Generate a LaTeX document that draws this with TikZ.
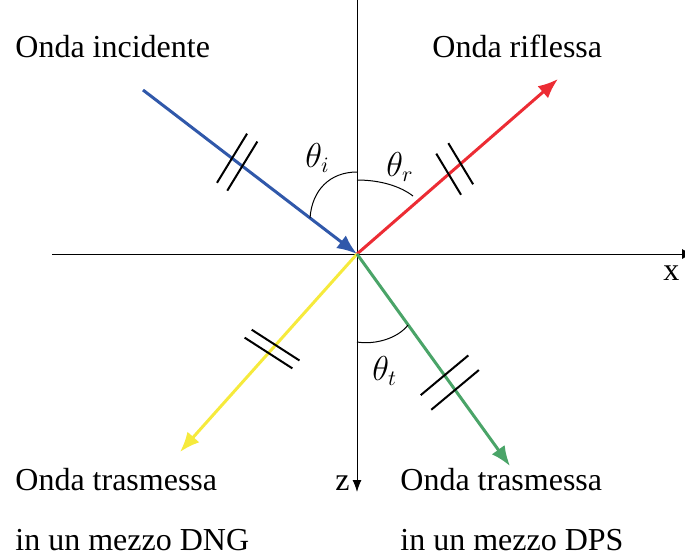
\documentclass[tikz,border=0pt]{standalone}
\usepackage{fontspec}
\setmainfont{Liberation Serif}
\usepackage{tikz}
\usetikzlibrary{arrows.meta,calc}
\definecolor{wblue}{RGB}{48,88,170}
\definecolor{wred}{RGB}{236,44,52}
\definecolor{wyellow}{RGB}{246,234,60}
\definecolor{wgreen}{RGB}{74,164,104}

\begin{document}
\begin{tikzpicture}[x=0.5pt,y=-0.5pt,font=\fontsize{16}{19}\selectfont,
  wave/.style={line width=1.5pt,-{Latex[length=10pt,width=8pt]}},
  axis/.style={line width=0.5pt},
  tick/.style={line width=1pt},
  lbl/.style={anchor=base west,inner sep=0pt}]
  \useasboundingbox (0,0) rectangle (685,559);
  \coordinate (O) at (357,254);
  \coordinate (xa) at (52,254);
  \coordinate (xb) at (694,254);
  \coordinate (za) at (357,0);
  \coordinate (zb) at (357,492);
  \coordinate (bs) at (143,90);
  \coordinate (re) at (558,79);
  \coordinate (ye) at (180,452);
  \coordinate (ge) at (510,466);
  \draw[axis,-{Latex[length=6pt,width=5pt]}] (xa) -- (xb);
  \draw[axis,-{Latex[length=6pt,width=4.5pt]}] (za) -- (zb);
  \node[lbl] (xl) at (663,280) {x};
  \node[lbl] (zl) at (335,490) {z};
  \draw[wave,wblue] (bs) -- (O);
  \draw[wave,wred] (O) -- (re);
  \draw[wave,wyellow] (O) -- (ye);
  \draw[wave,wgreen] (O) -- (ge);
  \foreach \a/\b/\t/\l/\r in {bs/O/0.416/14.4pt/96,bs/O/0.464/14.4pt/96,O/re/0.456/12pt/80,O/re/0.516/12pt/80,
                              O/ye/0.46/14.2pt/99,O/ye/0.50/14.2pt/99,O/ge/0.572/15.5pt/94,O/ge/0.641/15.5pt/94}
    \draw[tick] ($(\a)!\t!(\b)!\l!\r:(\b)$) -- ($(\a)!\t!(\b)!\l!\r-180:(\b)$);
  \draw[axis] (310,218) .. controls (312,190) and (330,172) .. (357,172);
  \draw[axis] (357,180) .. controls (380,180) and (400,186) .. (413,196);
  \draw[axis] (357,342) .. controls (376,345) and (398,338) .. (408,325);
  \node[lbl] (ti) at (305,167) {$\theta_i$};
  \node[lbl] (tr) at (386,176) {$\theta_r$};
  \node[lbl] (tt) at (372,380) {$\theta_t$};
  \node[lbl] (inc) at (15,57) {Onda incidente};
  \node[lbl] (rif) at (432,57) {Onda riflessa};
  \node[lbl] (tr1) at (15,490) {Onda trasmessa};
  \node[lbl] (dng) at (15,550) {in un mezzo DNG};
  \node[lbl] (tr2) at (400,490) {Onda trasmessa};
  \node[lbl] (dps) at (400,550) {in un mezzo DPS};
\end{tikzpicture}
\end{document}
